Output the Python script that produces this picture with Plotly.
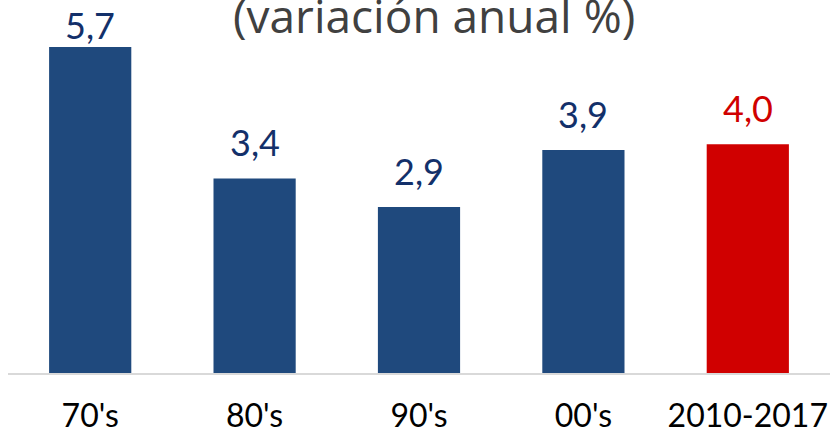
import plotly.graph_objects as go

# 데이터
decadas = ["70's", "80's", "90's", "00's", "2010-2017"]
variacion = [5.7, 3.4, 2.9, 3.9, 4.0]
etiquetas = ["5,7", "3,4", "2,9", "3,9", "4,0"]

AZUL = '#1F497D'
AZUL_TEXTO = '#13306A'
ROJO = '#D00000'

colores_barra = [AZUL, AZUL, AZUL, AZUL, ROJO]
colores_texto = [AZUL_TEXTO, AZUL_TEXTO, AZUL_TEXTO, AZUL_TEXTO, ROJO]
# desplazamiento vertical de cada etiqueta (px)
desplaz = [-2, 12, 12, 12, 12]

fig = go.Figure()

fig.add_trace(go.Bar(
    x=decadas,
    y=variacion,
    marker=dict(color=colores_barra, line=dict(width=0)),
    width=0.5,
    hoverinfo='skip'
))

# etiquetas de valor
for d, v, t, c, s in zip(decadas, variacion, etiquetas, colores_texto, desplaz):
    fig.add_annotation(
        x=d, y=v, text=t, showarrow=False,
        yanchor='bottom', yshift=s,
        font=dict(family='Lato', size=36, color=c)
    )

# título (recortado arriba en el original)
fig.add_annotation(
    xref='paper', yref='paper', x=0.518, y=0.96,
    text='(variación anual %)', showarrow=False,
    xanchor='center', yanchor='middle',
    font=dict(family='Open Sans', size=46, color='#404040')
)

fig.update_layout(
    width=832,
    height=433,
    margin=dict(l=8, r=2, t=0, b=60),
    plot_bgcolor='white',
    paper_bgcolor='white',
    showlegend=False,
    bargap=0.5,
    xaxis=dict(
        showline=True, linecolor='#D9D9D9', linewidth=2,
        showgrid=False, ticks='', ticklabelstandoff=14,
        automargin=False,
        tickfont=dict(family='Lato', size=32, color='#000000')
    ),
    yaxis=dict(
        range=[0, 6.52], visible=False, showgrid=False,
        automargin=False
    )
)

# quitar el margen del body para que el gráfico empiece en (0, 0)
fig.write_html("out.html", config={'displayModeBar': False},
               post_script="document.body.style.margin='0';")
